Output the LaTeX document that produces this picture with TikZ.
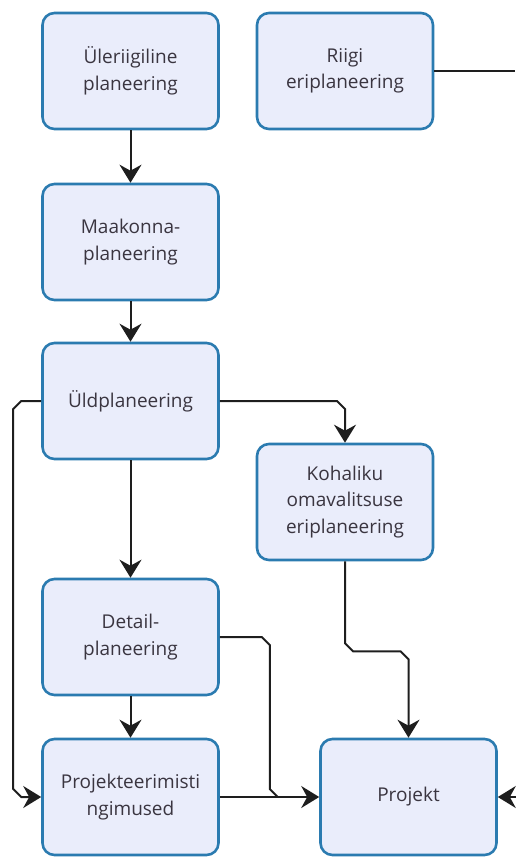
\documentclass[tikz,border=0pt]{standalone}
\usepackage{fontspec}
\setmainfont{Open Sans}
\usetikzlibrary{arrows.meta,calc}
\definecolor{boxfill}{HTML}{EAEDFB}
\definecolor{boxline}{HTML}{2B7BB0}
\definecolor{conn}{HTML}{1E1E1E}
\definecolor{txt}{HTML}{3A3540}
\tikzset{
  box/.style={draw=boxline, fill=boxfill, line width=2.6pt, rounded corners=12pt,
    minimum width=176pt, minimum height=116pt, align=center, inner sep=2pt,
    text=txt, font=\fontsize{19}{26.5}\selectfont},
  link/.style={draw=conn, line width=2pt},
  arr/.style={link, -{Stealth[length=18pt,width=22pt,inset=6pt]}},
}
\begin{document}
\begin{tikzpicture}[x=1pt,y=-1pt]
\useasboundingbox (0,0) rectangle (515,857);
\node[box] (ul) at (130.5,71) {Üleriigiline\\planeering};
\node[box] (riigi) at (345,71) {Riigi\\eriplaneering};
\node[box] (maa) at (130.5,242) {Maakonna-\\planeering};
\node[box] (uld) at (130.5,401) {Üldplaneering};
\node[box] (koh) at (345,502) {Kohaliku\\omavalitsuse\\eriplaneering};
\node[box] (det) at (130.5,637) {Detail-\\planeering};
\node[box] (pt) at (130.5,797) {Projekteerimisti\\ngimused};
\node[box] (proj) at (408.5,797) {Projekt};
\coordinate (rOut) at (515,71);
\coordinate (pIn) at (518,797);

\draw[arr] (ul) -- (maa);
\draw[arr] (maa) -- (uld);
\draw[arr] (uld) -- (det);
\draw[arr] (det) -- (pt);
\draw[link] (riigi.east) -- (rOut);
\draw[arr] (pIn) -- (proj.east);
\draw[arr] (uld.west) -- ++(-20,0) -- ++(-8,8) -- ($(pt.west)+(-28,-8)$) -- ($(pt.west)+(-20,0)$) -- (pt.west);
\draw[arr] (uld.east) -- ($(koh.north |- uld.east)+(-8,0)$) -- ($(koh.north |- uld.east)+(0,8)$) -- (koh.north);
\draw[arr] (koh.south) -- ($(koh.south)+(0,82)$) -- ($(koh.south)+(8,90)$) -- ($(proj.north |- koh.south)+(-8,90)$) -- ($(proj.north |- koh.south)+(0,98)$) -- (proj.north);
\coordinate (join) at ($(det.east |- pt.east)+(58,0)$);
\draw[link] (det.east) -- ++(42,0) -- ++(8,8) -- ($(det.east |- pt.east)+(50,-8)$) -- (join);
\draw[arr] (pt.east) -- (proj.west);
\end{tikzpicture}
\end{document}
